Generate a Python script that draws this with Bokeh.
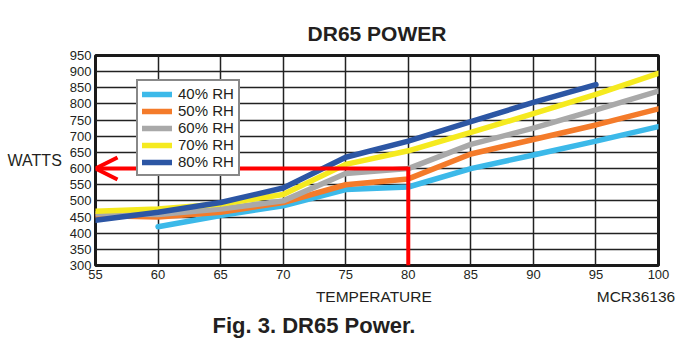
from bokeh.plotting import figure
from bokeh.models import (Range1d, FixedTicker, Legend, LegendItem, Arrow, OpenHead,
                          LinearAxis, Title)
from bokeh.embed import file_html
from bokeh.resources import INLINE

# ---- data ----
temps = [55, 60, 65, 70, 75, 80, 85, 90, 95, 100]
rh40_x = [60, 65, 70, 75, 80, 85, 90, 95, 100]
rh40_y = [420, 455, 485, 535, 543, 600, 642, 685, 730]
rh50_x = temps
rh50_y = [455, 450, 465, 495, 550, 568, 645, 690, 735, 785]
rh60_x = temps
rh60_y = [460, 458, 475, 500, 585, 600, 675, 725, 782, 840]
rh70_x = temps
rh70_y = [468, 475, 490, 520, 613, 655, 712, 770, 830, 895]
rh80_x = [55, 60, 65, 70, 75, 80, 85, 90, 95]
rh80_y = [440, 465, 495, 540, 635, 685, 745, 805, 860]

series_names = ["40% RH", "50% RH", "60% RH", "70% RH", "80% RH"]
series_colors = ["#3CB9E9", "#F47B2A", "#A9A9A9", "#F5EA1F", "#2C56A4"]
x_ticks = [55, 60, 65, 70, 75, 80, 85, 90, 95, 100]
y_ticks = [300, 350, 400, 450, 500, 550, 600, 650, 700, 750, 800, 850, 900, 950]

marker_temp = 80
marker_watts = 600

# bottom texts: axis title and figure code share one line under the tick labels
bottom_text_pos = [77.25, 98.2]
bottom_text = {77.25: "TEMPERATURE", 98.2: "MCR36136"}

FONT = "Liberation Sans"
TXT = "#231F20"

p = figure(width=699, height=354, output_backend="svg", toolbar_location=None,
           x_range=Range1d(55, 100), y_range=Range1d(300, 950),
           min_border_left=95, min_border_right=41, min_border_top=55,
           min_border_bottom=89, title="DR65 POWER")
p.background_fill_color = "white"
p.border_fill_color = "white"
p.outline_line_color = "#1a1a1a"
p.outline_line_width = 3

p.title.align = "center"
p.title.text_font = FONT
p.title.text_font_size = "21px"
p.title.text_font_style = "bold"
p.title.text_color = TXT
p.title.standoff = 22

p.xaxis.ticker = FixedTicker(ticks=x_ticks)
p.yaxis.ticker = FixedTicker(ticks=y_ticks)
for ax in (p.xaxis[0], p.yaxis[0]):
    ax.axis_line_color = None
    ax.major_tick_line_color = None
    ax.minor_tick_line_color = None
    ax.major_tick_out = 0
    ax.major_tick_in = 0
    ax.minor_tick_out = 0
    ax.minor_tick_in = 0
    ax.major_label_text_font = FONT
    ax.major_label_text_font_size = "13px"
    ax.major_label_text_color = TXT
    ax.axis_label_text_font = FONT
    ax.axis_label_text_font_size = "16px"
    ax.axis_label_text_font_style = "normal"
    ax.axis_label_text_color = TXT
p.xaxis.major_label_standoff = 4
p.yaxis.major_label_standoff = 4
p.yaxis.axis_label = "WATTS"
p.yaxis.axis_label_orientation = "horizontal"
p.yaxis.axis_label_standoff = 5

# second bottom axis carrying "TEMPERATURE" and "MCR36136"
ax2 = LinearAxis(ticker=FixedTicker(ticks=bottom_text_pos),
                 major_label_overrides=bottom_text,
                 axis_line_color=None, major_tick_line_color=None,
                 minor_tick_line_color=None, major_tick_out=0, major_tick_in=0,
                 minor_tick_out=0, minor_tick_in=0, major_label_standoff=6,
                 major_label_text_font=FONT, major_label_text_font_size="15.5px",
                 major_label_text_color=TXT)
p.add_layout(ax2, "below")

cap = Title(text="Fig. 3. DR65 Power.", align="left", offset=117,
            text_font=FONT, text_font_size="22px", text_font_style="bold",
            text_color=TXT, standoff=6)
p.add_layout(cap, "below")

p.xgrid.ticker = FixedTicker(ticks=x_ticks)
p.ygrid.ticker = FixedTicker(ticks=y_ticks)
for g in (p.xgrid[0], p.ygrid[0]):
    g.grid_line_color = "#222222"
    g.grid_line_width = 1.5

xs = [rh40_x, rh50_x, rh60_x, rh70_x, rh80_x]
ys = [rh40_y, rh50_y, rh60_y, rh70_y, rh80_y]
items = []
for name, c, x, y in zip(series_names, series_colors, xs, ys):
    r = p.line(x, y, line_color=c, line_width=5.5, line_cap="round", line_join="round")
    items.append(LegendItem(label=name, renderers=[r]))

legend = Legend(items=items, location=(41, 89), orientation="vertical")
legend.border_line_color = "#111111"
legend.border_line_width = 2
legend.background_fill_alpha = 1
legend.padding = 4
legend.spacing = 0
legend.margin = 0
legend.glyph_width = 30
legend.glyph_height = 16
legend.label_height = 16
legend.label_standoff = 6
legend.label_text_font = FONT
legend.label_text_font_size = "15px"
legend.label_text_color = TXT
p.add_layout(legend, "center")

# red indicator lines
arrow = Arrow(x_start=marker_temp, y_start=marker_watts, x_end=55, y_end=marker_watts,
              line_color="#FF0000", line_width=4,
              end=OpenHead(size=22, line_color="#FF0000", line_width=4), level="overlay")
p.add_layout(arrow)
vline = Arrow(x_start=marker_temp, y_start=marker_watts + 6, x_end=marker_temp, y_end=300,
              line_color="#FF0000", line_width=4, end=None, level="overlay")
p.add_layout(vline)

open("out.html", "w").write(file_html(p, INLINE))
